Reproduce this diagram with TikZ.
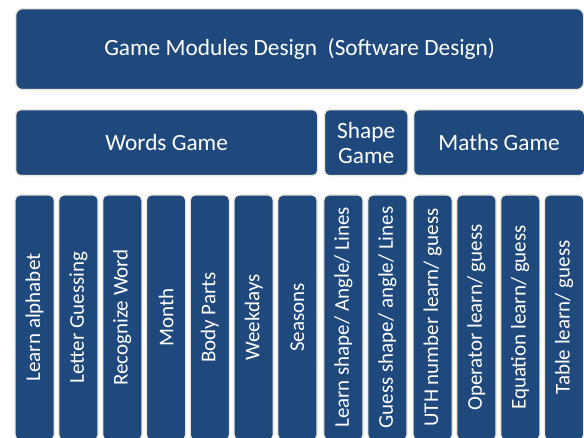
\documentclass[tikz,border=0pt]{standalone}
\usepackage{fontspec}
\setmainfont{Carlito}
\definecolor{boxfill}{RGB}{31,73,125}
\definecolor{boxline}{RGB}{236,233,220}
\begin{document}
\begin{tikzpicture}[x=1pt,y=-1pt,
  box/.style={draw=boxline, fill=boxfill, line width=1.3pt, rounded corners=5pt,
    text=white, align=center, inner sep=0pt},
  headbox/.style={box, anchor=north west, font=\fontsize{23.3}{25}\selectfont},
  colbox/.style={box, rotate=90, minimum width=245pt, minimum height=39.3pt,
    font=\fontsize{21}{23}\selectfont}]
\useasboundingbox (0,0) rectangle (584,438);
\clip (0,0) rectangle (584,438);
\node[headbox, rounded corners=7pt, minimum width=568pt, minimum height=81pt] (top) at (15,8)
  {Game Modules Design\ \ (Software Design)};
\node[headbox, minimum width=302pt, minimum height=66pt] (words) at (15,109) {Words Game};
\node[headbox, minimum width=83.5pt, minimum height=66pt] (shape) at (323.8,109) {Shape\\Game};
\node[headbox, minimum width=171pt, minimum height=66pt] (maths) at (413,109) {Maths Game};
\foreach \x/\t/\n in {15/{Learn alphabet}/c1, 58.8/{Letter Guessing}/c2, 102.6/{Recognize Word}/c3,
  146.4/{Month}/c4, 190.2/{Body Parts}/c5, 234/{Weekdays}/c6, 277.8/{Seasons}/c7,
  323.8/{Learn shape/ Angle/ Lines}/c8, 367.8/{Guess shape/ angle/ Lines}/c9,
  413/{UTH number learn/ guess}/c10, 456.8/{Operator learn/ guess}/c11,
  500.6/{Equation learn/ guess}/c12, 544.4/{Table learn/ guess}/c13}
  \node[colbox] (\n) at (\x+19.65,317.5) {\t};
\end{tikzpicture}
\end{document}
